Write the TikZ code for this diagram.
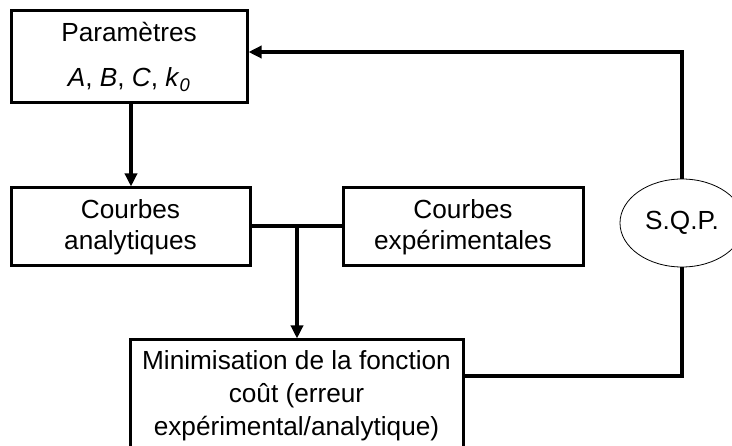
\documentclass[tikz,border=0pt]{standalone}
\usepackage{fontspec}
\setmainfont{Liberation Sans}
\usetikzlibrary{arrows.meta,shapes.geometric}
\begin{document}
\begin{tikzpicture}[x=1pt,y=-1pt,
  box/.style={draw,line width=3pt,rectangle,inner sep=0pt,align=center,
    font=\fontsize{26.2}{31}\selectfont},
  link/.style={line width=3.5pt},
  arr/.style={line width=3.5pt,-{Triangle[length=13pt,width=12pt]}}]
\useasboundingbox (0,0) rectangle (732,446);
\node[box,minimum width=236pt,minimum height=92pt,font=\fontsize{26.2}{45}\selectfont] (par) at (129,57)
  {Paramètres\\\textit{A}, \textit{B}, \textit{C}, \textit{k}\textsubscript{\textit{0}}};
\node[box,minimum width=239pt,minimum height=78pt] (ana) at (130.5,227) {Courbes\\analytiques};
\node[box,minimum width=240pt,minimum height=78pt] (exp) at (463,227) {Courbes\\expérimentales};
\node[box,minimum width=333pt,minimum height=112pt,font=\fontsize{26.2}{33}\selectfont] (min) at (296.5,396)
  {Minimisation de la fonction\\coût (erreur\\expérimental/analytique)};
\node[draw,ellipse,line width=0.8pt,minimum width=124pt,minimum height=88pt,inner sep=0pt,
  font=\fontsize{26.2}{31}\selectfont] (sqp) at (682,223) {S.Q.P.};
\coordinate (j) at (297,226);
\draw[arr] (131,103) -- (ana.north -| 131,0);
\draw[link] (ana.east |- j) -- (exp.west |- j);
\draw[arr] (j) -- (min.north -| j);
\draw[link] (min.east |- 0,376) -| (sqp.south);
\draw[arr] (sqp.north) |- (par.east |- 0,52);
\end{tikzpicture}
\end{document}
